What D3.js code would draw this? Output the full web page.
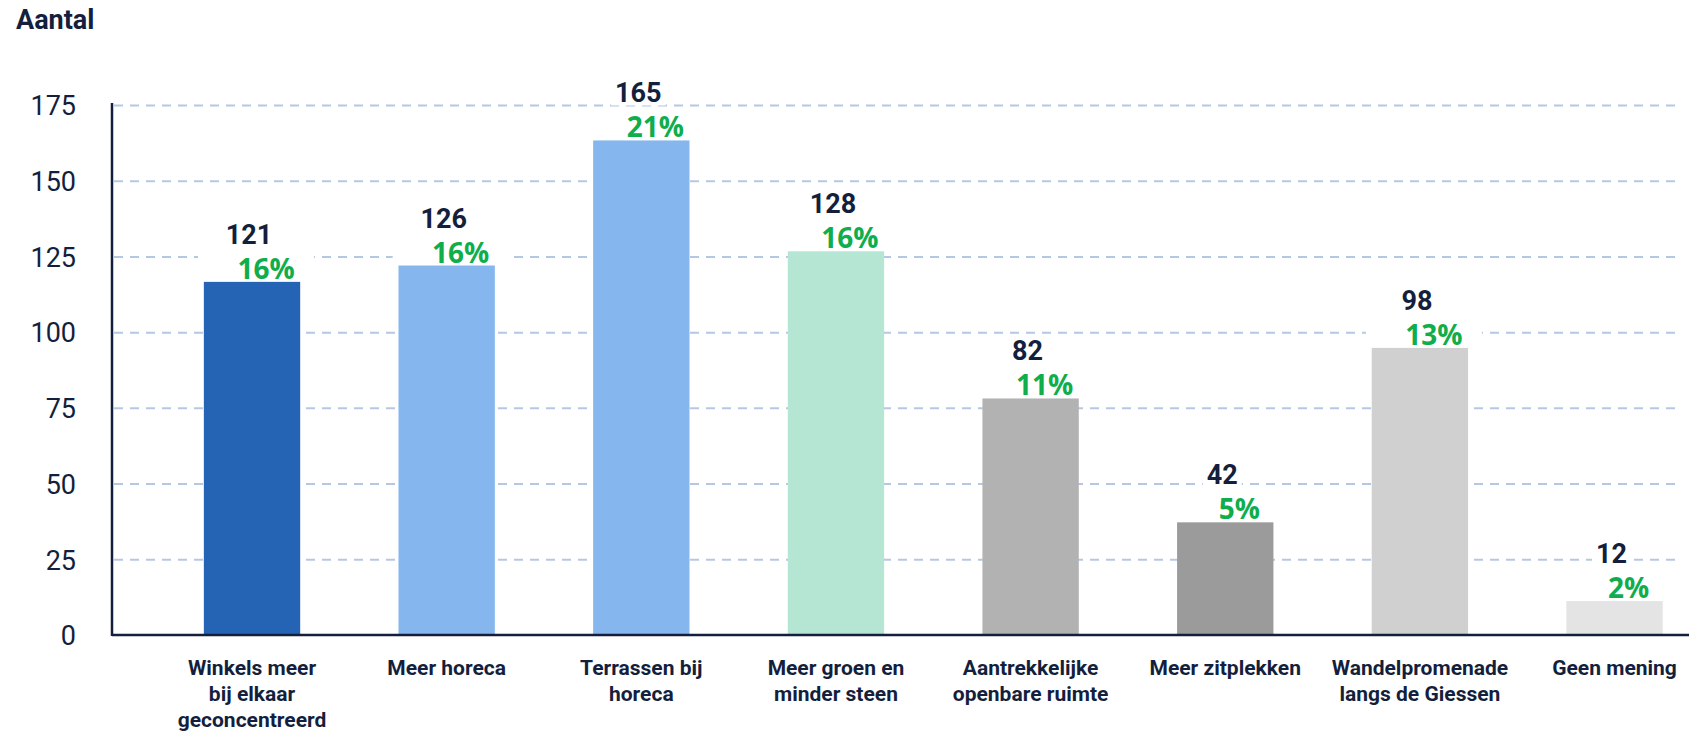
<!DOCTYPE html>
<html>
<head>
<meta charset="utf-8">
<script src="https://cdn.jsdelivr.net/npm/d3@7"></script>
<style>
  html, body { margin: 0; padding: 0; background: #ffffff; }
  svg { display: block; }
</style>
</head>
<body>
<div id="chart"></div>
<script>
// ---- data ----
const categories = [
  "Winkels meer|bij elkaar|geconcentreerd",
  "Meer horeca",
  "Terrassen bij|horeca",
  "Meer groen en|minder steen",
  "Aantrekkelijke|openbare ruimte",
  "Meer zitplekken",
  "Wandelpromenade|langs de Giessen",
  "Geen mening"
];
// bar heights as drawn in the picture
const barValues = [116.6, 122.0, 163.3, 126.7, 78.1, 37.2, 94.8, 11.2];
// printed labels above the bars
const countLabels = ["121", "126", "165", "128", "82", "42", "98", "12"];
const percentLabels = ["16%", "16%", "21%", "16%", "11%", "5%", "13%", "2%"];
const yTicks = [0, 25, 50, 75, 100, 125, 150, 175];
const yTitle = "Aantal";

// ---- styles ----
const barColors = ["#2564b5", "#85b7ee", "#85b7ee", "#b4e6d3", "#b2b2b2", "#9b9b9b", "#d0d0d0", "#e4e4e4"];
const navy = "#141f3d";
const green = "#10ad4c";
const gridColor = "#b6c7e3";

const W = 1699, H = 733;
const svg = d3.select("#chart").append("svg").attr("width", W).attr("height", H);

const axisX = 112, baseY = 635, topY = 105;

const x = d3.scaleBand()
  .domain(d3.range(categories.length))
  .range([axisX, 1690])
  .paddingInner(0.505)
  .paddingOuter(0.306)
  .align(0.771);

const y = d3.scaleLinear().domain([0, 175]).range([baseY, topY]);

// title
svg.append("text")
  .attr("x", 16).attr("y", 29)
  .attr("font-family", "Roboto, 'Noto Sans', sans-serif")
  .attr("font-weight", 700)
  .attr("font-size", 27)
  .attr("fill", navy)
  .text(yTitle);

// gridlines
const yAxis = d3.axisLeft(y).tickValues(yTicks).tickSize(-(1678 - axisX)).tickPadding(36);
const gAxis = svg.append("g").attr("transform", `translate(${axisX},0)`).call(yAxis);
gAxis.select(".domain").remove();
gAxis.selectAll(".tick line")
  .attr("stroke", d => d === 0 ? "none" : gridColor)
  .attr("stroke-width", 2)
  .attr("stroke-dasharray", "9 7")
  .attr("x1", 2);
gAxis.selectAll(".tick text")
  .attr("font-family", "Roboto, 'Noto Sans', sans-serif")
  .attr("font-size", 27)
  .attr("fill", navy)
  .attr("dy", "0.36em");

// bars
svg.append("g").selectAll("rect")
  .data(barValues)
  .join("rect")
  .attr("x", (d, i) => x(i))
  .attr("y", d => y(d))
  .attr("width", x.bandwidth())
  .attr("height", d => baseY - y(d))
  .attr("fill", (d, i) => barColors[i]);

// axis lines
svg.append("line")
  .attr("x1", axisX).attr("x2", axisX)
  .attr("y1", topY - 2).attr("y2", baseY + 1)
  .attr("stroke", navy).attr("stroke-width", 2.5);
svg.append("line")
  .attr("x1", axisX).attr("x2", 1689)
  .attr("y1", baseY).attr("y2", baseY)
  .attr("stroke", navy).attr("stroke-width", 2.5);

// value labels
const lg = svg.append("g");
barValues.forEach((v, i) => {
  const cx = x(i) + x.bandwidth() / 2;
  const top = y(v);
  const pctBase = top - 3;
  const cntBase = top - 38;
  lg.append("rect")
    .attr("x", cx - 54).attr("y", pctBase - 27)
    .attr("width", 116).attr("height", 29)
    .attr("fill", "#ffffff");
  const ct = lg.append("text")
    .attr("x", cx - 3).attr("y", cntBase)
    .attr("text-anchor", "middle")
    .attr("font-family", "Roboto, 'Noto Sans', sans-serif")
    .attr("font-weight", 700)
    .attr("font-size", 27)
    .attr("fill", navy)
    .text(countLabels[i]);
  const bb = ct.node().getBBox();
  lg.insert("rect", () => ct.node())
    .attr("x", bb.x - 4).attr("y", cntBase - 21)
    .attr("width", bb.width + 8).attr("height", 24)
    .attr("fill", "#ffffff");
  lg.append("text")
    .attr("x", cx + 14).attr("y", pctBase)
    .attr("text-anchor", "middle")
    .attr("font-family", "'Open Sans', 'Noto Sans', sans-serif")
    .attr("font-weight", 700)
    .attr("font-size", 28)
    .attr("fill", green)
    .text(percentLabels[i]);
});

// category labels
const cg = svg.append("g");
categories.forEach((c, i) => {
  const cx = x(i) + x.bandwidth() / 2;
  const t = cg.append("text")
    .attr("text-anchor", "middle")
    .attr("font-family", "Roboto, 'Noto Sans', sans-serif")
    .attr("font-weight", 700)
    .attr("font-size", 21)
    .attr("fill", navy);
  c.split("|").forEach((line, k) => {
    t.append("tspan").attr("x", cx).attr("y", 675 + k * 26).text(line);
  });
});
</script>
</body>
</html>
